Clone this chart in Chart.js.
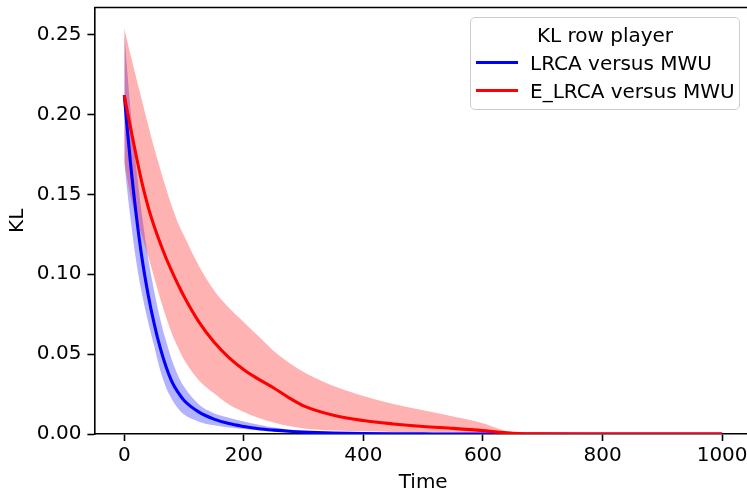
<!DOCTYPE html>
<html>
<head>
<meta charset="utf-8">
<script src="https://cdn.jsdelivr.net/npm/chart.js@4/dist/chart.umd.min.js"></script>
<style>
  html, body { margin:0; padding:0; background:#fff; }
  body { width:747px; height:496px; overflow:hidden; position:relative; font-family:'DejaVu Sans', sans-serif; }
  #c { position:absolute; left:0; top:0; }
  #legend { position:absolute; left:470px; top:17px; width:270px; height:93px; box-sizing:border-box;
    border:1.5px solid #cccccc; border-radius:5px; background:rgba(255,255,255,0.8);
    font-size:20px; color:#000; padding-top:2.5px; }
  #legend .t { text-align:center; line-height:28px; height:28px; white-space:nowrap; }
  #legend .r { display:flex; align-items:center; height:28px; line-height:28px; white-space:nowrap; }
  #legend .h { width:42px; height:3px; margin-left:4.5px; margin-right:12.5px; flex:none; }
</style>
</head>
<body>
<canvas id="c" width="755" height="496"></canvas>
<div id="legend"></div>
<script>
// ---- data ----
const time      = [0,5,10,20,30,40,50,60,70,80,90,100,125,150,175,200,225,250,275,300,350,400,450,500,550,600,625,650,700,800,900,1000];
const lrcaMean  = [0.212,0.191,0.171,0.137,0.109,0.087,0.069,0.054,0.042,0.0325,0.026,0.021,0.0137,0.0093,0.0065,0.0047,0.0033,0.0024,0.0017,0.0012,0.0006,0.0003,0.00015,0.00007,0,0,0,0,0,0,0,0];
const lrcaLow   = [0.170,0.152,0.136,0.108,0.087,0.070,0.055,0.040,0.029,0.0215,0.016,0.0122,0.0077,0.0054,0.0041,0.0032,0.0024,0.0016,0.0011,0.0006,0.0002,0.0001,0,0,0,0,0,0,0,0,0,0];
const lrcaHigh  = [0.252,0.227,0.205,0.167,0.136,0.110,0.0895,0.072,0.058,0.046,0.0365,0.0295,0.0185,0.013,0.0102,0.0078,0.0058,0.0040,0.0028,0.0019,0.0009,0.0004,0.0002,0.0001,0,0,0,0,0,0,0,0];
const elrcaMean = [0.212,0.202,0.1925,0.174,0.1565,0.142,0.130,0.1195,0.110,0.1015,0.0935,0.086,0.070,0.0575,0.0478,0.0402,0.0342,0.0288,0.0228,0.0176,0.0117,0.0084,0.0063,0.0047,0.0035,0.0021,0.0012,0.0005,0.0001,0,0,0];
const elrcaLow  = [0.170,0.1595,0.1495,0.1355,0.1235,0.111,0.098,0.085,0.073,0.0625,0.054,0.0465,0.0335,0.0255,0.0185,0.0138,0.0100,0.0072,0.0050,0.0035,0.0022,0.0017,0.0013,0.0010,0.0008,0.0005,0.0003,0.0001,0,0,0,0];
const elrcaHigh = [0.254,0.246,0.238,0.223,0.208,0.193,0.179,0.166,0.1535,0.142,0.132,0.124,0.105,0.090,0.079,0.070,0.061,0.052,0.0448,0.0388,0.0300,0.0238,0.0188,0.0148,0.011,0.0068,0.0035,0.0008,0.0001,0,0,0];
const xTicks = [0,200,400,600,800,1000];
const yTicks = [0,0.05,0.10,0.15,0.20,0.25];
const seriesLabels = ['LRCA versus MWU','E_LRCA versus MWU'];
const legendTitle = 'KL row player';
const xTitle = 'Time';
const yTitle = 'KL';

const pts = arr => time.map((t,i) => ({x:t, y:arr[i]}));
const BLUE = '#0000ff', RED = '#ff0000';
const BLUE_F = 'rgba(0,0,255,0.3)', RED_F = 'rgba(255,0,0,0.3)';

Chart.defaults.font.family = "'DejaVu Sans', sans-serif";
Chart.defaults.font.size = 20;
Chart.defaults.color = '#000';

const lineBase = { pointRadius:0, pointHoverRadius:0, cubicInterpolationMode:'monotone' };

const spines = {
  id:'spines',
  afterDatasetsDraw(chart){
    const {ctx, chartArea:a} = chart;
    ctx.save();
    ctx.strokeStyle = '#000';
    ctx.lineWidth = 1.6;
    ctx.beginPath();
    ctx.moveTo(a.left, a.top); ctx.lineTo(a.right, a.top); ctx.lineTo(a.right, a.bottom);
    ctx.stroke();
    ctx.restore();
  }
};

const chart = new Chart(document.getElementById('c'), {
  type:'line',
  data:{ datasets:[
    Object.assign({label:seriesLabels[1], data:pts(elrcaMean), borderColor:RED, borderWidth:3.1, fill:false, order:0}, lineBase),
    Object.assign({label:seriesLabels[0], data:pts(lrcaMean), borderColor:BLUE, borderWidth:3.1, fill:false, order:1}, lineBase),
    Object.assign({label:'elrca_high', data:pts(elrcaHigh), borderWidth:0, borderColor:'rgba(0,0,0,0)', backgroundColor:RED_F, fill:'+1', order:2}, lineBase),
    Object.assign({label:'elrca_low', data:pts(elrcaLow), borderWidth:0, borderColor:'rgba(0,0,0,0)', fill:false, order:2}, lineBase),
    Object.assign({label:'lrca_high', data:pts(lrcaHigh), borderWidth:0, borderColor:'rgba(0,0,0,0)', backgroundColor:BLUE_F, fill:'+1', order:3}, lineBase),
    Object.assign({label:'lrca_low', data:pts(lrcaLow), borderWidth:0, borderColor:'rgba(0,0,0,0)', fill:false, order:3}, lineBase)
  ]},
  options:{
    responsive:false, animation:false, devicePixelRatio:1,
    layout:{ padding:{ top:7.5, right:3, left:0, bottom:0 } },
    plugins:{ legend:{display:false}, tooltip:{enabled:false}, filler:{drawTime:'beforeDatasetsDraw'} },
    scales:{
      x:{ type:'linear', min:-50, max:1050,
        afterBuildTicks: s => { s.ticks = xTicks.map(v => ({value:v})); },
        afterFit: s => { s.height = 62; s.paddingLeft = 0; s.paddingRight = 0; },
        ticks:{ padding:3, maxRotation:0, autoSkip:false, color:'#000', callback: v => String(v) },
        grid:{ drawOnChartArea:false, drawTicks:true, tickLength:7, tickWidth:1.6, tickColor:'#000' },
        border:{ display:true, color:'#000', width:1.6 },
        title:{ display:true, text:xTitle, color:'#000', padding:{top:0, bottom:1} }
      },
      y:{ type:'linear', min:0, max:0.2669,
        afterBuildTicks: s => { s.ticks = yTicks.map(v => ({value:v})); },
        afterFit: s => { s.width = 94.4; s.paddingTop = 0; s.paddingBottom = 0; },
        ticks:{ padding:6, color:'#000', callback: v => Number(v).toFixed(2) },
        grid:{ drawOnChartArea:false, drawTicks:true, tickLength:7, tickWidth:1.6, tickColor:'#000' },
        border:{ display:true, color:'#000', width:1.6 },
        title:{ display:true, text:yTitle, color:'#000', padding:{top:6, bottom:0} }
      }
    }
  },
  plugins:[spines]
});

// HTML legend built from the chart's own series
const lg = document.getElementById('legend');
const t = document.createElement('div'); t.className = 't'; t.textContent = legendTitle; lg.appendChild(t);
[[seriesLabels[0], BLUE],[seriesLabels[1], RED]].forEach(([lab,col]) => {
  const r = document.createElement('div'); r.className = 'r';
  const h = document.createElement('span'); h.className = 'h'; h.style.background = col;
  const s = document.createElement('span'); s.textContent = lab;
  r.appendChild(h); r.appendChild(s); lg.appendChild(r);
});
</script>
</body>
</html>
